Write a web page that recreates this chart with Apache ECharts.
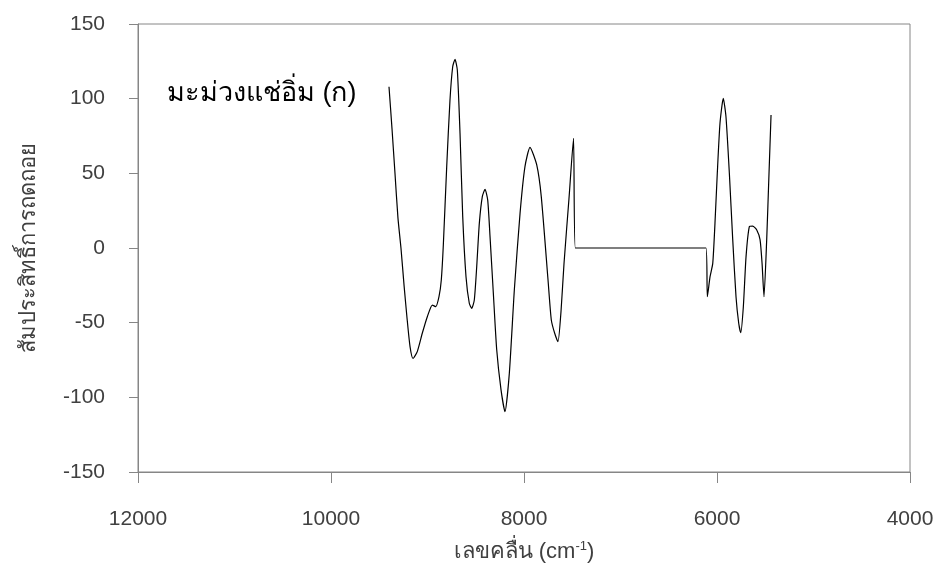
<!DOCTYPE html>
<html>
<head>
<meta charset="utf-8">
<script src="https://cdn.jsdelivr.net/npm/echarts@6/dist/echarts.min.js"></script>
<style>
  html, body { margin: 0; padding: 0; background: #fff; }
  #chart { width: 944px; height: 572px; }
</style>
</head>
<body>
<div id="chart"></div>
<script>
// Regression coefficient spectrum, first block (wavenumber in cm-1)
const wavenumberA = [
  9399, 9368, 9337, 9306, 9275, 9243, 9212, 9181, 9150, 9106, 9054, 9002, 8950, 8915,
  8881, 8857, 8836, 8801, 8767, 8739, 8715, 8691, 8663, 8635, 8601, 8567, 8542,
  8515, 8490, 8463, 8432, 8404, 8376, 8352, 8318, 8283, 8238, 8197, 8152, 8100,
  8041, 7990, 7938, 7868, 7821, 7751, 7717, 7682, 7648, 7616, 7585, 7534, 7487
];
const coefA = [
  108, 80, 50, 20, 0, -25, -47, -66, -74, -69.4, -57.1, -46, -38.2, -39.3,
  -32.6, -21.4, 2, 54.4, 99.1, 121.4, 126.3, 119.2, 76.8, 21, -19.2, -37, -40.4,
  -34.8, -12.5, 16.5, 34.4, 39.3, 32.1, 7.6, -30, -68, -95, -109.6, -83.9, -28,
  23.2, 54.5, 67.4, 55.6, 34.4, -21.4, -48.2, -57.1, -62.7, -42, -10, 33, 73.4
];
// Excluded range, coefficients held at zero
const wavenumberFlat = [7468, 7400, 6800, 6200, 6114];
const coefFlat = [0, 0, 0, 0, 0];
// Second block
const wavenumberB = [
  6100, 6072, 6044, 6021, 5997, 5969, 5935, 5907, 5872, 5837, 5803, 5775, 5754,
  5727, 5699, 5665, 5630, 5588, 5554, 5533, 5513, 5485, 5461, 5440
];
const coefB = [
  -32.6, -19.2, -10.3, 16.5, 50, 83.5, 100.2, 87.9, 50, 5.6, -32.6, -50.4, -56.7,
  -39.3, -5.8, 14.3, 14.7, 12.1, 5.6, -10.3, -32.6, 5.6, 50, 89
];
const xTicks = { min: 4000, max: 12000, step: 2000 };
const yTicks = { min: -150, max: 150, step: 50 };

const wavenumbers = wavenumberA.concat(wavenumberFlat, wavenumberB);
const coefs = coefA.concat(coefFlat, coefB);
const points = wavenumbers.map((w, i) => [w, coefs[i]]);

const axisGrey = '#868686';
const textGrey = '#404040';
const fontFamily = '"Liberation Sans", "Noto Sans", sans-serif';
const plain = v => String(v);

const chart = echarts.init(document.getElementById('chart'), null, { renderer: 'canvas' });
chart.setOption({
  animation: false,
  backgroundColor: '#ffffff',
  grid: {
    left: 138, right: 34, top: 24, bottom: 100,
    show: true, borderColor: axisGrey, borderWidth: 1
  },
  xAxis: {
    type: 'value',
    inverse: true,
    min: xTicks.min, max: xTicks.max, interval: xTicks.step,
    name: '{a|เลขคลื่น (cm}{s|-1}{a|)}',
    nameLocation: 'middle',
    nameGap: 68,
    nameTextStyle: {
      rich: {
        a: { fontSize: 22, color: textGrey, fontFamily: fontFamily },
        s: { fontSize: 13, color: textGrey, fontFamily: fontFamily, padding: [0, 0, 11, 0] }
      }
    },
    axisLine: { show: true, onZero: false, lineStyle: { color: axisGrey, width: 1 } },
    axisTick: { show: true, inside: false, length: 11, lineStyle: { color: axisGrey } },
    axisLabel: { margin: 37, fontSize: 21, color: textGrey, fontFamily: fontFamily, formatter: plain },
    splitLine: { show: false }
  },
  yAxis: {
    type: 'value',
    min: yTicks.min, max: yTicks.max, interval: yTicks.step,
    name: 'สัมประสิทธิ์การถดถอย',
    nameLocation: 'middle',
    nameGap: 98,
    nameRotate: 90,
    nameTextStyle: { fontSize: 22, color: textGrey, fontFamily: fontFamily },
    axisLine: { show: true, onZero: false, lineStyle: { color: axisGrey, width: 1 } },
    axisTick: { show: true, inside: false, length: 9, lineStyle: { color: axisGrey } },
    axisLabel: { margin: 33, fontSize: 21, color: textGrey, fontFamily: fontFamily, formatter: plain },
    splitLine: { show: false }
  },
  graphic: [{
    type: 'text',
    left: 167,
    top: 80,
    style: {
      text: 'มะม่วงแช่อิ่ม (ก)',
      fontSize: 27,
      fill: '#000000',
      fontFamily: fontFamily
    }
  }],
  series: [{
    type: 'line',
    data: points,
    smooth: 0.2,
    showSymbol: false,
    lineStyle: { color: '#000000', width: 1.2 },
    emphasis: { disabled: true }
  }]
});
</script>
</body>
</html>
